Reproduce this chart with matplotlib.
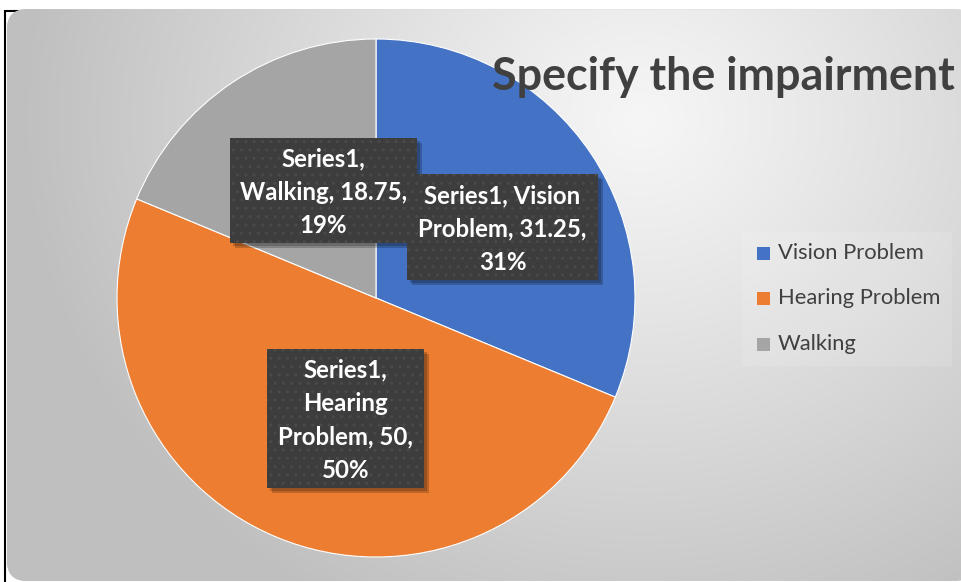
import numpy as np
import matplotlib
matplotlib.use("Agg")
import matplotlib.pyplot as plt
from matplotlib.patches import FancyBboxPatch, Rectangle

# ---- data ----
categories = ["Vision Problem", "Hearing Problem", "Walking"]
values = [31.25, 50, 18.75]
percent_labels = ["31%", "50%", "19%"]
series_name = "Series1"
title = "Specify the impairment"
colors = ["#4472C4", "#ED7D31", "#A5A5A5"]
label_texts = [
    f"{series_name}, Vision\nProblem, {values[0]},\n{percent_labels[0]}",
    f"{series_name},\nHearing\nProblem, {values[1]:g},\n{percent_labels[1]}",
    f"{series_name},\nWalking, {values[2]},\n{percent_labels[2]}",
]

W, H = 962, 582
fig = plt.figure(figsize=(W / 100, H / 100), dpi=100)
fig.patch.set_facecolor("white")

# ---- background with radial gradient inside rounded rectangle ----
bg = fig.add_axes([0, 0, 1, 1])
bg.set_xlim(0, W)
bg.set_ylim(H, 0)
bg.axis("off")
pad = 20
yy, xx = np.mgrid[-pad:H + pad, -pad:W + pad]
d = np.sqrt(((xx - 640) / 1.0) ** 2 + ((yy - 120) / 0.9) ** 2)
t = np.clip(d / 620, 0, 1)
c0, c1 = 0.965, 0.75
g = c0 + (c1 - c0) * t ** 1.1
img = np.dstack([g, g, g])
# black frame pieces behind
bg.plot([5.5, 5.5, W + 5], [H + 5, 10.5, 10.5], color="black", lw=1.5, zorder=1,
        solid_joinstyle="miter")
rr = FancyBboxPatch((7, 9.2), W + 5, H - 10.2, boxstyle="round,pad=0,rounding_size=20",
                    facecolor="#c8c8c8", edgecolor="none", lw=0, zorder=1.2)
bg.add_patch(rr)
im = bg.imshow(img, extent=(-pad, W + pad, H + pad, -pad), zorder=1.5,
               interpolation="nearest")
im.set_clip_path(rr)
bg.set_xlim(0, W)
bg.set_ylim(H, 0)

# ---- pie ----
cx, cy, R = 376, 298, 259
pax = fig.add_axes([(cx - R) / W, (H - cy - R) / H, 2 * R / W, 2 * R / H])
pax.pie(values, colors=colors, startangle=90, counterclock=False, radius=1,
        wedgeprops=dict(edgecolor="white", linewidth=0.8))
pax.set_xlim(-1, 1)
pax.set_ylim(-1, 1)
pax.set_aspect("auto")
pax.axis("off")

# ---- overlay (labels, title, legend) ----
ov = fig.add_axes([0, 0, 1, 1])
ov.set_xlim(0, W)
ov.set_ylim(H, 0)
ov.axis("off")
ov.patch.set_alpha(0)

lab_font = ["Lato", "DejaVu Sans"]
boxes = [  # x0, y0, x1, y1 in px for Vision, Hearing, Walking
    (407, 174, 598, 280),
    (267, 349, 424, 488),
    (230, 138, 417, 243),
]
order = [0, 1, 2]
for i in order:
    x0, y0, x1, y1 = boxes[i]
    ov.add_patch(Rectangle((x0 + 5, y0 + 5), x1 - x0, y1 - y0, facecolor="black",
                           alpha=0.2, lw=0, zorder=3))
    ov.add_patch(Rectangle((x0 + 3, y0 + 3), x1 - x0, y1 - y0, facecolor="black",
                           alpha=0.2, lw=0, zorder=3))
    ov.add_patch(Rectangle((x0, y0), x1 - x0, y1 - y0, facecolor="#3d3d3d",
                           edgecolor="#4a4a4a", hatch="..", lw=0, zorder=4))
    ov.text((x0 + x1) / 2, (y0 + y1) / 2 + 2, label_texts[i], ha="center", va="center",
            color="white", fontsize=17.3, fontweight="bold", family=lab_font,
            linespacing=1.55, zorder=5)

ov.text(492, 77, title, ha="left", va="center", fontsize=32.3, fontweight="bold",
        color="#404040", family=lab_font, zorder=6)

# legend
ov.add_patch(Rectangle((742, 232), 210, 134, facecolor="white", alpha=0.12, lw=0, zorder=3))
leg_y = [253, 298, 344]
for c, lab, y in zip(colors, categories, leg_y):
    ov.add_patch(Rectangle((757, y - 6.5), 13, 13, facecolor=c, lw=0, zorder=6))
    ov.text(778, y, lab, ha="left", va="center", fontsize=15.8, color="#404040",
            family=lab_font, zorder=6)

fig.savefig("out.png", dpi=100)
